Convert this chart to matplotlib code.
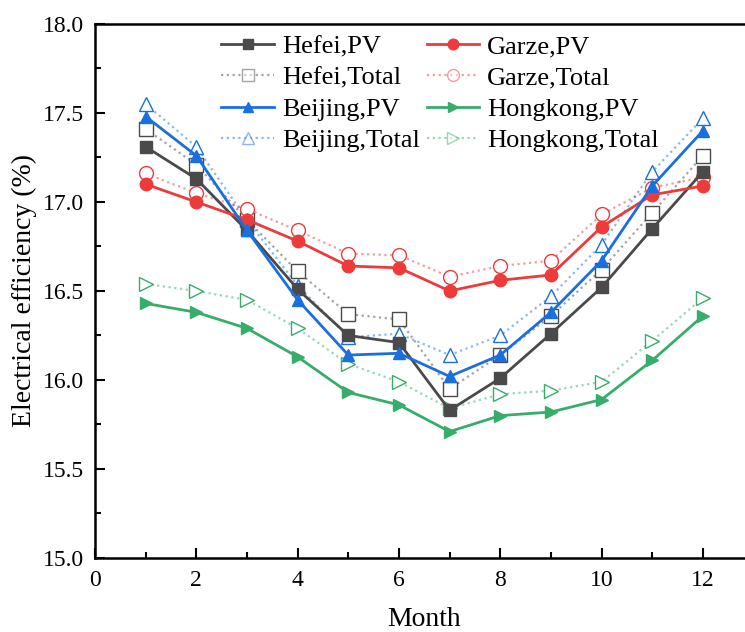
import numpy as np
import matplotlib.pyplot as plt
from matplotlib.ticker import MultipleLocator

plt.rcParams['font.family'] = 'Liberation Serif'
plt.rcParams['mathtext.fontset'] = 'stix'

months = np.arange(1, 13)

hefei_pv = [17.31, 17.13, 16.84, 16.51, 16.25, 16.21, 15.83, 16.01, 16.26, 16.52, 16.85, 17.17]
hefei_total = [17.41, 17.21, 16.90, 16.61, 16.37, 16.34, 15.95, 16.14, 16.36, 16.62, 16.94, 17.26]
garze_pv = [17.10, 17.00, 16.90, 16.78, 16.64, 16.63, 16.50, 16.56, 16.59, 16.86, 17.04, 17.09]
garze_total = [17.16, 17.05, 16.96, 16.84, 16.71, 16.70, 16.58, 16.64, 16.67, 16.93, 17.08, 17.14]
beijing_pv = [17.48, 17.26, 16.84, 16.45, 16.14, 16.15, 16.02, 16.14, 16.38, 16.67, 17.09, 17.40]
beijing_total = [17.55, 17.31, 16.90, 16.53, 16.24, 16.26, 16.14, 16.25, 16.47, 16.76, 17.17, 17.47]
hongkong_pv = [16.43, 16.38, 16.29, 16.13, 15.93, 15.86, 15.71, 15.80, 15.82, 15.89, 16.11, 16.36]
hongkong_total = [16.54, 16.50, 16.45, 16.29, 16.09, 15.99, 15.84, 15.92, 15.94, 15.99, 16.22, 16.46]

series = [
    ('Hefei', hefei_pv, hefei_total, '#4a4a4a', 's'),
    ('Garze', garze_pv, garze_total, '#ec3b3b', 'o'),
    ('Beijing', beijing_pv, beijing_total, '#1a6fdf', '^'),
    ('Hongkong', hongkong_pv, hongkong_total, '#37ad6b', '>'),
]

fig = plt.figure(figsize=(7.45, 6.32), dpi=100)
ax = fig.add_axes([0.1275, 0.1171, 0.884, 0.845])

handles = {}
for name, pv, total, color, mk in series:
    h1, = ax.plot(months, pv, color=color, lw=2, marker=mk, ms=9,
                  label=f'{name},PV', zorder=3)
    # dotted "Total" curve drawn pale, markers kept crisp on top
    ax.plot(months, total, color=color, lw=1.6, ls=(0, (1, 1.6)), alpha=0.5, zorder=2)
    ax.plot(months, total, ls='none', marker=mk, ms=10, mfc='white', mec=color,
            mew=1, zorder=2.5)
    h2, = ax.plot([], [], color=color, lw=1.6, ls=(0, (1, 1.6)), alpha=0.5,
                  marker=mk, ms=10, mfc='white', mec=color, mew=1,
                  label=f'{name},Total')
    handles[name] = (h1, h2)

order = [handles['Hefei'][0], handles['Hefei'][1], handles['Beijing'][0], handles['Beijing'][1],
         handles['Garze'][0], handles['Garze'][1], handles['Hongkong'][0], handles['Hongkong'][1]]
ax.legend(handles=order, ncol=2, loc='upper center', bbox_to_anchor=(0.524, 1.0),
          frameon=False, fontsize=19, handlelength=2.0, handletextpad=0.3,
          columnspacing=0.25, labelspacing=0.3, borderaxespad=0.0, markerscale=0.85)

ax.set_xlim(0, 13)
ax.set_ylim(15.0, 18.0)
ax.xaxis.set_major_locator(MultipleLocator(2))
ax.xaxis.set_minor_locator(MultipleLocator(1))
ax.yaxis.set_major_locator(MultipleLocator(0.5))
ax.yaxis.set_minor_locator(MultipleLocator(0.25))
ax.yaxis.set_major_formatter(plt.FormatStrFormatter('%.1f'))
ax.tick_params(which='both', direction='in', labelsize=17, width=1.5)
ax.tick_params(which='major', length=7)
ax.tick_params(which='minor', length=4)
ax.tick_params(axis='x', pad=9)
ax.tick_params(axis='y', pad=8)
for s in ax.spines.values():
    s.set_linewidth(1.8)

ax.set_xlabel('Month', fontsize=20, labelpad=11)
ax.set_ylabel('Electrical efficiency (%)', fontsize=20, labelpad=4)

fig.savefig('out.png', dpi=100)
